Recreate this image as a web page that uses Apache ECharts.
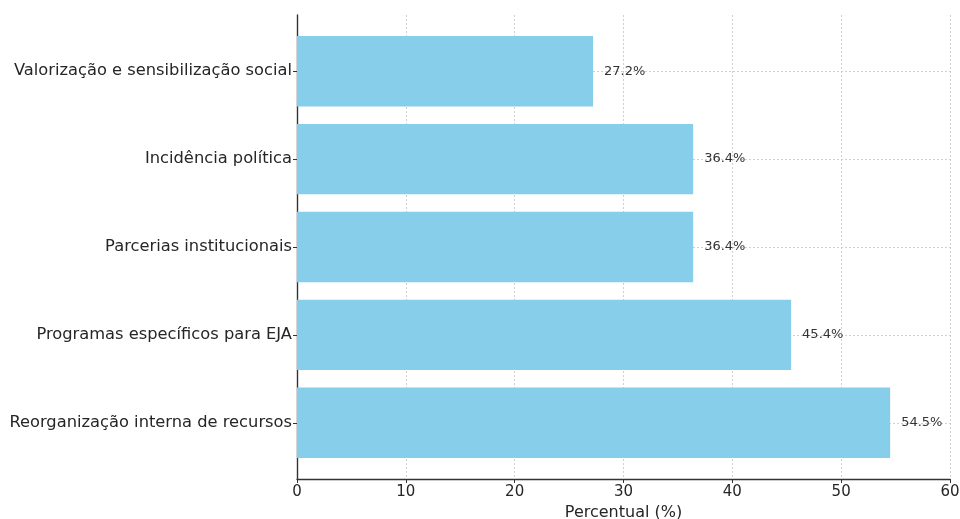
<!DOCTYPE html>
<html>
<head>
<meta charset="utf-8">
<script src="https://cdn.jsdelivr.net/npm/echarts@6/dist/echarts.min.js"></script>
<style>
  html, body { margin: 0; padding: 0; background: #fff; }
  #chart { width: 960px; height: 519px; }
</style>
</head>
<body>
<div id="chart"></div>
<script>
// Strategies, listed from bottom (position 0) to top
const categories = [
  'Reorganização interna de recursos',
  'Programas específicos para EJA',
  'Parcerias institucionais',
  'Incidência política',
  'Valorização e sensibilização social'
];
const percentages = [54.5, 45.4, 36.4, 36.4, 27.2];
const xTicks = [0, 10, 20, 30, 40, 50, 60];
const yPositions = [0, 1, 2, 3, 4];

const FONT = 'DejaVu Sans';
const BAR_COLOR = '#87CEEB';
const BAR_THICKNESS = 0.8; // in category units

const chart = echarts.init(document.getElementById('chart'), null, { renderer: 'canvas' });

const seriesData = percentages.map((v, i) => [v, yPositions[i]]);

chart.setOption({
  animation: false,
  backgroundColor: '#ffffff',
  grid: { left: 297, right: 10, top: 15, bottom: 40, containLabel: false, outerBoundsMode: 'none' },
  xAxis: {
    type: 'value',
    min: xTicks[0],
    max: xTicks[xTicks.length - 1],
    interval: 10,
    name: 'Percentual (%)',
    nameLocation: 'middle',
    nameGap: 25,
    nameTextStyle: { fontFamily: FONT, fontSize: 16, color: '#262626' },
    axisLine: { show: true, onZero: false, lineStyle: { color: '#333', width: 1.4 } },
    axisTick: { show: true, inside: false, length: 4, lineStyle: { color: '#333' } },
    axisLabel: { fontFamily: FONT, fontSize: 15, color: '#262626', margin: 6 },
    splitLine: { show: true, lineStyle: { color: '#d0d0d0', type: [2, 2], width: 1 } }
  },
  yAxis: {
    type: 'value',
    min: -0.64,
    max: 4.64,
    axisLine: { show: true, onZero: false, lineStyle: { color: '#333', width: 1.4 } },
    axisTick: { show: true, inside: false, length: 4, lineStyle: { color: '#333' }, customValues: yPositions },
    axisLabel: {
      fontFamily: FONT, fontSize: 16.3, color: '#262626', margin: 5,
      customValues: yPositions,
      formatter: (v) => categories[Math.round(v)] || ''
    },
    splitLine: { show: true, lineStyle: { color: '#d0d0d0', type: [2, 2], width: 1 } }
  },
  series: [{
    type: 'custom',
    data: seriesData,
    encode: { x: 0, y: 1 },
    renderItem: function (params, api) {
      const value = api.value(0);
      const pos = api.value(1);
      const start = api.coord([0, pos]);
      const end = api.coord([value, pos]);
      const h = api.size([0, BAR_THICKNESS])[1];
      return {
        type: 'group',
        children: [
          {
            type: 'rect',
            shape: { x: start[0], y: start[1] - h / 2, width: end[0] - start[0], height: h },
            style: { fill: BAR_COLOR }
          },
          {
            type: 'text',
            x: end[0] + 11,
            y: end[1],
            style: {
              text: value.toFixed(1) + '%',
              fontFamily: FONT,
              fontSize: 13,
              fill: '#333',
              align: 'left',
              verticalAlign: 'middle'
            }
          }
        ]
      };
    }
  }]
});
</script>
</body>
</html>
